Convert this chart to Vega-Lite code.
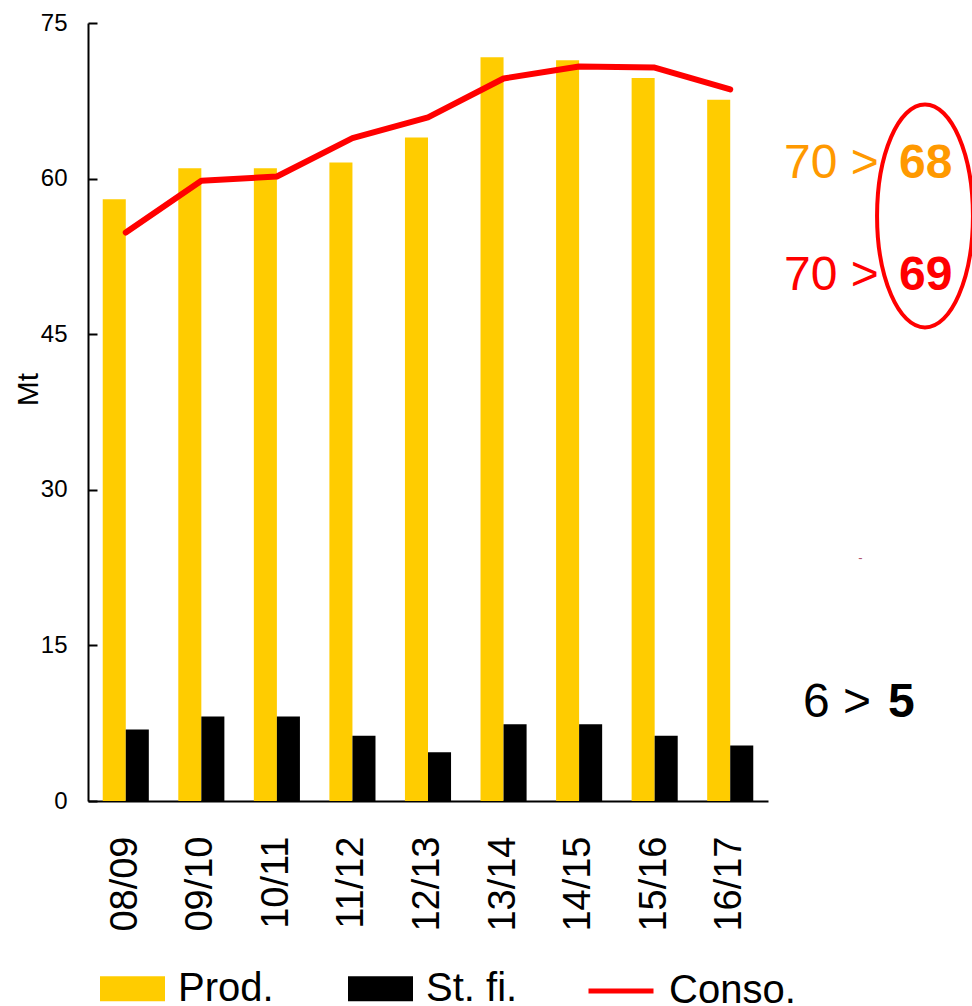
{
  "$schema": "https://vega.github.io/schema/vega-lite/v6.json",
  "padding": {"left": 13, "top": 11, "right": 0, "bottom": 0},
  "spacing": 0,
  "config": {"view": {"stroke": null}, "font": "Liberation Sans"},
  "hconcat": [
    {
      "width": 680,
      "height": 778,
      "data": {"values": [
        {"season": "08/09", "series": "Prod.", "value": 58.0},
        {"season": "09/10", "series": "Prod.", "value": 61.0},
        {"season": "10/11", "series": "Prod.", "value": 61.0},
        {"season": "11/12", "series": "Prod.", "value": 61.55},
        {"season": "12/13", "series": "Prod.", "value": 63.96},
        {"season": "13/14", "series": "Prod.", "value": 71.7},
        {"season": "14/15", "series": "Prod.", "value": 71.4},
        {"season": "15/16", "series": "Prod.", "value": 69.7},
        {"season": "16/17", "series": "Prod.", "value": 67.6},
        {"season": "08/09", "series": "St. fi.", "value": 6.9},
        {"season": "09/10", "series": "St. fi.", "value": 8.15},
        {"season": "10/11", "series": "St. fi.", "value": 8.15},
        {"season": "11/12", "series": "St. fi.", "value": 6.3},
        {"season": "12/13", "series": "St. fi.", "value": 4.7},
        {"season": "13/14", "series": "St. fi.", "value": 7.4},
        {"season": "14/15", "series": "St. fi.", "value": 7.4},
        {"season": "15/16", "series": "St. fi.", "value": 6.3},
        {"season": "16/17", "series": "St. fi.", "value": 5.35},
        {"season": "08/09", "series": "Conso.", "value": 54.8},
        {"season": "09/10", "series": "Conso.", "value": 59.8},
        {"season": "10/11", "series": "Conso.", "value": 60.2},
        {"season": "11/12", "series": "Conso.", "value": 63.9},
        {"season": "12/13", "series": "Conso.", "value": 65.9},
        {"season": "13/14", "series": "Conso.", "value": 69.65},
        {"season": "14/15", "series": "Conso.", "value": 70.8},
        {"season": "15/16", "series": "Conso.", "value": 70.7},
        {"season": "16/17", "series": "Conso.", "value": 68.6}
      ]},
      "encoding": {
        "x": {
          "field": "season", "type": "nominal", "sort": null,
          "scale": {"paddingInner": 0.39, "paddingOuter": 0.195},
          "axis": {"title": null, "labelAngle": 270, "ticks": false, "labelFontSize": 38, "labelPadding": 35, "labelColor": "#000", "domainColor": "#000", "domainWidth": 2}
        },
        "y": {
          "field": "value", "type": "quantitative",
          "scale": {"domain": [0, 75], "nice": false},
          "axis": {"values": [0, 15, 30, 45, 60, 75], "title": "Mt", "grid": false, "tickSize": -9, "tickColor": "#000", "tickWidth": 2, "labelFontSize": 24, "labelPadding": 30, "labelColor": "#000", "domainColor": "#000", "domainWidth": 2, "titleFontSize": 30, "titleFontWeight": "normal", "titleColor": "#000", "titleBaseline": "alphabetic", "titleX": -51, "titleY": 366, "titleAngle": 270}
        }
      },
      "layer": [
        {
          "transform": [{"filter": "datum.series !== 'Conso.'"}],
          "mark": {"type": "bar"},
          "encoding": {
            "xOffset": {"field": "series", "type": "nominal", "scale": {"domain": ["Prod.", "St. fi."], "paddingInner": 0, "paddingOuter": 0}},
            "color": {
              "field": "series", "type": "nominal",
              "scale": {"domain": ["Prod.", "St. fi."], "range": ["#FFCC00", "#000000"]},
              "legend": {
                "title": null, "orient": "bottom", "direction": "horizontal", "offset": 12, "padding": 12,
                "labelFontSize": 40, "labelColor": "#000", "labelOffset": 13, "columnPadding": 74,
                "symbolSize": 4225, "symbolType": "M-1,-0.385L1,-0.385L1,0.385L-1,0.385Z",
                "symbolOpacity": 1, "symbolStrokeWidth": 0
              }
            }
          }
        },
        {
          "transform": [{"filter": "datum.series === 'Conso.'"}],
          "mark": {"type": "line", "strokeWidth": 6, "strokeCap": "round", "strokeJoin": "round"},
          "encoding": {
            "stroke": {
              "field": "series", "type": "nominal",
              "scale": {"domain": ["Conso."], "range": ["#FF0000"]},
              "legend": {
                "title": null, "orient": "bottom", "direction": "horizontal", "offset": 12, "padding": 12,
                "labelFontSize": 40, "labelColor": "#000", "labelOffset": 13, "symbolOffset": 36,
                "symbolSize": 4225, "symbolType": "stroke", "symbolStrokeWidth": 5, "symbolOpacity": 1
              }
            }
          }
        }
      ]
    },
    {
      "width": 204,
      "height": 778,
      "data": {"values": [
        {"kind": "note", "grp": "prod", "part": "old", "label": "70 >", "px": 16, "py": 60.05},
        {"kind": "note", "grp": "prod", "part": "new", "label": "68", "px": 131, "py": 60.05},
        {"kind": "note", "grp": "conso", "part": "old", "label": "70 >", "px": 16, "py": 49.26},
        {"kind": "note", "grp": "conso", "part": "new", "label": "69", "px": 131, "py": 49.26},
        {"kind": "note", "grp": "stock", "part": "old", "label": "6 >", "px": 35, "py": 8.05},
        {"kind": "note", "grp": "stock", "part": "new", "label": "5", "px": 120, "py": 8.05},
        {"kind": "ellipse", "grp": "conso", "part": "", "label": "", "px": 157, "py": 56.4},
        {"kind": "dash", "grp": "dash", "part": "", "label": "-", "px": 92.5, "py": 23.0}
      ]},
      "encoding": {
        "x": {"field": "px", "type": "quantitative", "scale": {"domain": [0, 204], "nice": false, "zero": false}, "axis": null},
        "y": {"field": "py", "type": "quantitative", "scale": {"domain": [0, 75], "nice": false}, "axis": null}
      },
      "layer": [
        {
          "transform": [{"filter": "datum.kind === 'note' && datum.part === 'old'"}],
          "mark": {"type": "text", "align": "left", "baseline": "alphabetic", "fontSize": 48, "fontWeight": "normal"},
          "encoding": {
            "text": {"field": "label"},
            "color": {"condition": [{"test": "datum.grp === 'prod'", "value": "#FF9900"}, {"test": "datum.grp === 'conso'", "value": "#FF0000"}], "value": "#000000"}
          }
        },
        {
          "transform": [{"filter": "datum.kind === 'note' && datum.part === 'new'"}],
          "mark": {"type": "text", "align": "left", "baseline": "alphabetic", "fontSize": 48, "fontWeight": "bold"},
          "encoding": {
            "text": {"field": "label"},
            "color": {"condition": [{"test": "datum.grp === 'prod'", "value": "#FF9900"}, {"test": "datum.grp === 'conso'", "value": "#FF0000"}], "value": "#000000"}
          }
        },
        {
          "transform": [{"filter": "datum.kind === 'ellipse'"}],
          "mark": {"type": "point", "filled": false, "shape": "M-0.43,0C-0.43,-0.5523,-0.2375,-1,0,-1C0.2375,-1,0.43,-0.5523,0.43,0C0.43,0.5523,0.2375,1,0,1C-0.2375,1,-0.43,0.5523,-0.43,0Z", "size": 49729, "stroke": "#FF0000", "strokeWidth": 4, "opacity": 1}
        },
        {
          "transform": [{"filter": "datum.kind === 'dash'"}],
          "mark": {"type": "text", "align": "center", "baseline": "alphabetic", "fontSize": 13, "color": "#B05070"},
          "encoding": {"text": {"field": "label"}}
        }
      ]
    }
  ]
}
